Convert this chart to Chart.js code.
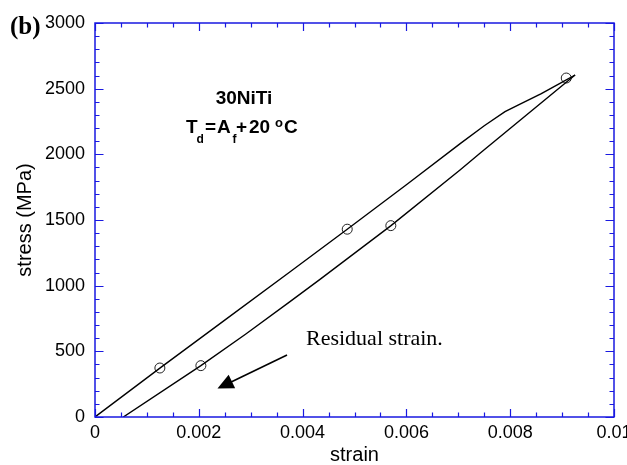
<!DOCTYPE html>
<html>
<head>
<meta charset="utf-8">
<script src="https://cdn.jsdelivr.net/npm/chart.js@4.4.0/dist/chart.umd.min.js"></script>
<style>
html,body{margin:0;padding:0;background:#fff;}
#wrap{width:627px;height:465px;position:relative;}
</style>
</head>
<body>
<div id="wrap"><canvas id="c" width="627" height="465"></canvas></div>
<script>
// ---- data (strain, stress MPa) ----
const loadStrain   = [0, 0.00125, 0.0025, 0.00376, 0.00486, 0.0060, 0.00703, 0.0075, 0.0079, 0.0082, 0.0086, 0.00902, 0.00925];
const loadStress   = [0, 372, 738, 1106, 1430, 1768, 2080, 2218, 2325, 2385, 2462, 2553, 2604];
const unloadStrain = [0.000545, 0.00204, 0.00290, 0.003757, 0.004335, 0.005703, 0.007033, 0.007418, 0.00925];
const unloadStress = [0, 391, 630, 878, 1048, 1457, 1881, 2008, 2604];
const markStrain   = [0.00125, 0.00204, 0.00486, 0.00570, 0.00908];
const markStress   = [373, 391, 1430, 1457, 2581];
const xTickStep = 0.002, xMinorStep = 0.0005, xMin = 0, xMax = 0.01;
const yTickStep = 500, yMinorStep = 100, yMin = 0, yMax = 3000;

const zip = (a, b) => a.map((v, i) => ({x: v, y: b[i]}));
const BLUE = 'rgb(25,25,225)';

const framePlugin = {
  id: 'frame',
  afterDraw(chart) {
    const ctx = chart.ctx, a = chart.chartArea, xs = chart.scales.x, ys = chart.scales.y;
    ctx.save();
    ctx.strokeStyle = BLUE;
    ctx.lineWidth = 1.2;
    const nx = Math.round((xMax - xMin) / xMinorStep);
    const perX = Math.round(xTickStep / xMinorStep);
    for (let i = 0; i <= nx; i++) {
      const px = Math.round(xs.getPixelForValue(xMin + i * xMinorStep)) + 0.5;
      const len = (i % perX === 0) ? 8 : 4.5;
      ctx.beginPath();
      ctx.moveTo(px, a.bottom); ctx.lineTo(px, a.bottom - len);
      ctx.moveTo(px, a.top); ctx.lineTo(px, a.top + len);
      ctx.stroke();
    }
    const ny = Math.round((yMax - yMin) / yMinorStep);
    const perY = Math.round(yTickStep / yMinorStep);
    for (let i = 0; i <= ny; i++) {
      const py = Math.round(ys.getPixelForValue(yMin + i * yMinorStep)) + 0.5;
      const len = (i % perY === 0) ? 8.5 : 4.5;
      ctx.beginPath();
      ctx.moveTo(a.left, py); ctx.lineTo(a.left + len, py);
      ctx.moveTo(a.right, py); ctx.lineTo(a.right - len, py);
      ctx.stroke();
    }
    ctx.lineWidth = 1.5;
    ctx.strokeRect(a.left, a.top, a.right - a.left, a.bottom - a.top);

    // annotations
    ctx.fillStyle = '#000';
    ctx.textBaseline = 'alphabetic';
    ctx.font = 'bold 25px "Liberation Serif"';
    ctx.textAlign = 'left';
    ctx.fillText('(b)', 10, 34);

    ctx.font = 'bold 19px "Liberation Sans"';
    ctx.textAlign = 'center';
    ctx.fillText('30NiTi', 244, 103.5);

    // T_d=A_f+20 °C
    ctx.textAlign = 'left';
    const base = 132.5;
    const big = 'bold 19px "Liberation Sans"', small = 'bold 12px "Liberation Sans"', deg = 'bold 13px "Liberation Sans"';
    const put = (t, f, x, y) => { ctx.font = f; ctx.fillText(t, x, y); };
    put('T', big, 186, base);
    put('d', small, 196.5, base + 10);
    put('=', big, 205, base);
    put('A', big, 217, base);
    put('f', small, 232.5, base + 10);
    put('+', big, 236, base);
    put('20', big, 249, base);
    put('o', deg, 275, base - 5.5);
    put('C', big, 284, base);

    ctx.font = '22px "Liberation Serif"';
    ctx.fillText('Residual strain.', 306, 345);

    // arrow
    const x0 = xs.getPixelForValue(0.0037), y0 = ys.getPixelForValue(472);
    const x1 = xs.getPixelForValue(0.00236), y1 = ys.getPixelForValue(217);
    const dx = x1 - x0, dy = y1 - y0, L = Math.hypot(dx, dy), ux = dx / L, uy = dy / L;
    const hl = 16, hw = 7.5;
    const bx = x1 - ux * hl, by = y1 - uy * hl;
    ctx.strokeStyle = '#000'; ctx.lineWidth = 1.6;
    ctx.beginPath(); ctx.moveTo(x0, y0); ctx.lineTo(bx + ux * 2, by + uy * 2); ctx.stroke();
    ctx.beginPath();
    ctx.moveTo(x1, y1);
    ctx.lineTo(bx - uy * hw, by + ux * hw);
    ctx.lineTo(bx + uy * hw, by - ux * hw);
    ctx.closePath(); ctx.fill();
    ctx.restore();
  }
};

new Chart(document.getElementById('c'), {
  type: 'scatter',
  data: {
    datasets: [
      { data: zip(loadStrain, loadStress), showLine: true, borderColor: '#000', borderWidth: 1.4, pointRadius: 0, tension: 0 },
      { data: zip(unloadStrain, unloadStress), showLine: true, borderColor: '#000', borderWidth: 1.4, pointRadius: 0, tension: 0 },
      { data: zip(markStrain, markStress), showLine: false, pointStyle: 'circle', pointRadius: 5, borderColor: '#222', borderWidth: 1, backgroundColor: 'rgba(0,0,0,0)' }
    ]
  },
  options: {
    responsive: false,
    animation: false,
    events: [],
    layout: { padding: { top: 23, right: 13, left: 0, bottom: 0 } },
    plugins: { legend: { display: false }, tooltip: { enabled: false } },
    scales: {
      x: {
        type: 'linear', min: xMin, max: xMax,
        grid: { display: false, drawTicks: false },
        border: { display: false },
        ticks: {
          stepSize: xTickStep, padding: 5, color: '#000',
          font: { family: 'Liberation Sans', size: 18 },
          callback: v => String(Number(v.toFixed(4)))
        },
        title: { display: true, text: 'strain', color: '#000', font: { family: 'Liberation Sans', size: 20, lineHeight: 1.0 }, padding: 0 },
        afterFit: s => { s.height = 48; s.paddingLeft = 0; s.paddingRight = 0; }
      },
      y: {
        type: 'linear', min: yMin, max: yMax,
        grid: { display: false, drawTicks: false },
        border: { display: false },
        ticks: {
          stepSize: yTickStep, padding: 10, color: '#000',
          font: { family: 'Liberation Sans', size: 18 },
          callback: v => String(v)
        },
        title: { display: true, text: 'stress (MPa)', color: '#000', font: { family: 'Liberation Sans', size: 20, lineHeight: 1.0 }, padding: { top: 15, bottom: 0 } },
        afterFit: s => { s.width = 95; s.paddingTop = 0; s.paddingBottom = 0; }
      }
    }
  },
  plugins: [framePlugin]
});
</script>
</body>
</html>
